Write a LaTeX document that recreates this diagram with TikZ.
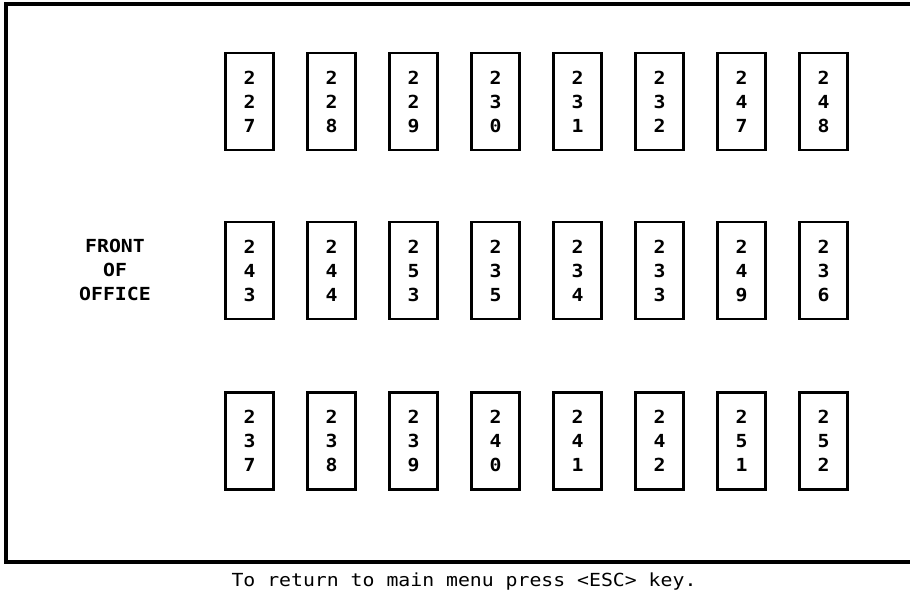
\documentclass[tikz,border=0pt]{standalone}
\usepackage{fontspec}
\newfontfamily\scrfont[FakeStretch=1.1]{DejaVu Sans Mono}
\begin{document}
\begin{tikzpicture}[x=1pt,y=-1pt,
  scrtext/.style={font=\scrfont\bfseries\fontsize{18}{24}\selectfont, inner sep=0pt},
  room/.style={scrtext, draw, line width=2.4pt, minimum width=48pt, minimum height=97pt, align=center},
  frameline/.style={line width=4pt}]
\useasboundingbox (0,0) rectangle (910,596);
% outer frame (open on the right)
\coordinate (ftr) at (912,4.5);
\coordinate (ftl) at (5.5,4.5);
\coordinate (fbl) at (5.5,562);
\coordinate (fbr) at (912,562);
\draw[frameline] (ftr) -- (ftl) -- (fbl) -- (fbr);
% top row
\foreach \a/\b/\c [count=\i from 0] in {2/2/7,2/2/8,2/2/9,2/3/0,2/3/1,2/3/2,2/4/7,2/4/8}
  \node[room] (r\a\b\c) at (249.5+82.0*\i,101.5) {\a\\\b\\\c};
% middle row
\foreach \a/\b/\c [count=\i from 0] in {2/4/3,2/4/4,2/5/3,2/3/5,2/3/4,2/3/3,2/4/9,2/3/6}
  \node[room] (r\a\b\c) at (249.5+82.0*\i,270.5) {\a\\\b\\\c};
% bottom row
\foreach \a/\b/\c [count=\i from 0] in {2/3/7,2/3/8,2/3/9,2/4/0,2/4/1,2/4/2,2/5/1,2/5/2}
  \node[room] (r\a\b\c) at (249.5+82.0*\i,441) {\a\\\b\\\c};
% label
\node[scrtext, align=center] (front) at (115,270) {FRONT\\OF\\OFFICE};
% footer
\node[scrtext, font=\scrfont\fontsize{18}{24}\selectfont] (footer) at (464,582) {To return to main menu press <ESC> key.};
\end{tikzpicture}
\end{document}
